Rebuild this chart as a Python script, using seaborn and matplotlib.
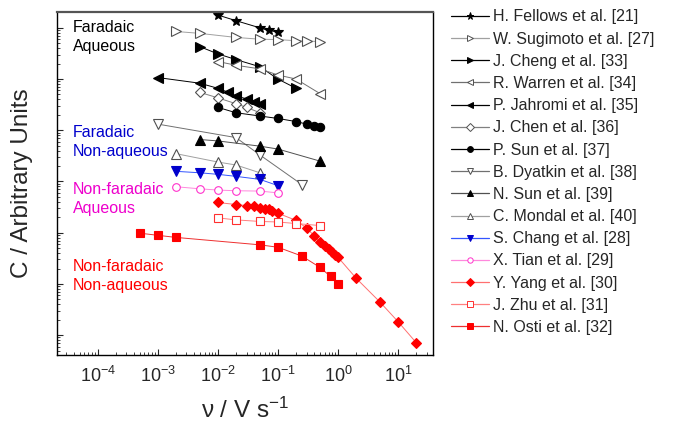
import matplotlib
matplotlib.use("Agg")
import matplotlib.pyplot as plt
from matplotlib.ticker import LogLocator, NullFormatter, FixedLocator
from matplotlib.lines import Line2D
import seaborn as sns

# ---------------- data ----------------
labels = ["H. Fellows et al. [21]", "W. Sugimoto et al. [27]", "J. Cheng et al. [33]",
          "R. Warren et al. [34]", "P. Jahromi et al. [35]", "J. Chen et al. [36]",
          "P. Sun et al. [37]", "B. Dyatkin et al. [38]", "N. Sun et al. [39]",
          "C. Mondal et al. [40]", "S. Chang et al. [28]", "X. Tian et al. [29]",
          "Y. Yang et al. [30]", "J. Zhu et al. [31]", "N. Osti et al. [32]"]

x_major_ticks = [1e-4, 1e-3, 1e-2, 1e-1, 1e0, 1e1]

fellows_x = [0.01, 0.02, 0.05, 0.07, 0.1]
fellows_y = [1.78e6, 1.38e6, 1.0e6, 8.9e5, 8.3e5]
sugimoto_x = [0.002, 0.005, 0.02, 0.05, 0.1, 0.2, 0.3, 0.5]
sugimoto_y = [8.5e5, 7.8e5, 6.5e5, 6.0e5, 5.9e5, 5.6e5, 5.5e5, 5.4e5]
cheng_x = [0.005, 0.01, 0.02, 0.05, 0.1, 0.2]
cheng_y = [4.3e5, 3.1e5, 2.4e5, 1.74e5, 1.0e5, 6.6e4]
warren_x = [0.01, 0.02, 0.05, 0.1, 0.2, 0.5]
warren_y = [2.2e5, 1.86e5, 1.58e5, 1.2e5, 1.0e5, 5.2e4]
jahromi_x = [0.001, 0.005, 0.01, 0.015, 0.02, 0.03, 0.04, 0.05]
jahromi_y = [1.07e5, 8.3e4, 6.6e4, 5.5e4, 4.7e4, 4.1e4, 3.5e4, 3.2e4]
chen_x = [0.005, 0.01, 0.02, 0.03, 0.05]
chen_y = [5.5e4, 4.3e4, 3.3e4, 2.8e4, 2.2e4]
psun_x = [0.01, 0.02, 0.05, 0.1, 0.2, 0.3, 0.4, 0.5]
psun_y = [2.8e4, 2.2e4, 1.9e4, 1.7e4, 1.48e4, 1.32e4, 1.2e4, 1.15e4]
dyatkin_x = [0.001, 0.02, 0.05, 0.25]
dyatkin_y = [1.32e4, 7.2e3, 3.3e3, 870]
nsun_x = [0.005, 0.01, 0.05, 0.1, 0.5]
nsun_y = [6.6e3, 6.2e3, 4.9e3, 4.3e3, 2.5e3]
mondal_x = [0.002, 0.01, 0.02, 0.05]
mondal_y = [3.5e3, 2.4e3, 2.1e3, 1.48e3]
chang_x = [0.002, 0.005, 0.01, 0.02, 0.05, 0.1]
chang_y = [1.58e3, 1.48e3, 1.38e3, 1.26e3, 1.1e3, 830]
tian_x = [0.002, 0.005, 0.01, 0.02, 0.05, 0.1]
tian_y = [790, 720, 680, 660, 650, 600]
yang_x = [0.01, 0.02, 0.03, 0.04, 0.05, 0.06, 0.07, 0.08, 0.1, 0.2, 0.3, 0.4,
          0.5, 0.6, 0.7, 0.8, 0.9, 1.0, 2, 5, 10, 20]
yang_y = [389, 355, 339, 331, 309, 295, 288, 269, 240, 174, 123, 87,
          65, 55, 48, 42, 37, 33, 12.9, 4.4, 1.82, 0.71]
zhu_x = [0.01, 0.02, 0.05, 0.1, 0.2, 0.5]
zhu_y = [195, 178, 166, 162, 151, 138]
osti_x = [0.0005, 0.001, 0.002, 0.05, 0.1, 0.25, 0.5, 0.75, 1.0]
osti_y = [98, 89, 81, 58, 52, 35, 21, 14, 9.8]

xs = [fellows_x, sugimoto_x, cheng_x, warren_x, jahromi_x, chen_x, psun_x, dyatkin_x,
      nsun_x, mondal_x, chang_x, tian_x, yang_x, zhu_x, osti_x]
ys = [fellows_y, sugimoto_y, cheng_y, warren_y, jahromi_y, chen_y, psun_y, dyatkin_y,
      nsun_y, mondal_y, chang_y, tian_y, yang_y, zhu_y, osti_y]

# styles: marker, line colour, marker face, marker edge, size
styles = [
    ("*", "#000000", "#000000", "#000000", 7.5),
    (">", "#a0a0a0", "white", "#505050", 6.5),
    (">", "#000000", "#000000", "#000000", 6.5),
    ("<", "#707070", "white", "#505050", 6.5),
    ("<", "#000000", "#000000", "#000000", 6.5),
    ("D", "#808080", "white", "#505050", 5.5),
    ("o", "#000000", "#000000", "#000000", 6),
    ("v", "#707070", "white", "#505050", 6.5),
    ("^", "#505050", "#000000", "#000000", 6.5),
    ("^", "#a0a0a0", "white", "#505050", 6.5),
    ("v", "#3355ff", "#0000cc", "#0000cc", 6.5),
    ("o", "#ff88dd", "white", "#ff33cc", 5.5),
    ("D", "#ff7070", "#ff0000", "#ff0000", 5.5),
    ("s", "#ff8080", "white", "#ff3030", 5.5),
    ("s", "#ee3030", "#ff0000", "#ff0000", 5.5),
]

# ---------------- figure ----------------
sns.set_style("ticks")
plt.rcParams["font.family"] = ["Liberation Sans", "DejaVu Sans"]
plt.rcParams["mathtext.fontset"] = "custom"
plt.rcParams["mathtext.rm"] = "Liberation Sans"
plt.rcParams["mathtext.it"] = "Liberation Sans:italic"
plt.rcParams["mathtext.bf"] = "Liberation Sans:bold"

fig = plt.figure(figsize=(6.94, 4.28), dpi=100)
ax = fig.add_axes([0.082, 0.1706, 0.542, 0.8014])

handles = []
for lab, x, y, (m, lc, fc, ec, ms) in zip(labels, xs, ys, styles):
    sns.lineplot(x=x, y=y, ax=ax, color=lc, linewidth=0.7, marker=m, markersize=ms,
                 markerfacecolor=fc, markeredgecolor=ec, markeredgewidth=0.8,
                 sort=False, errorbar=None, legend=False)
    handles.append(Line2D([], [], color=lc, linewidth=0.9, marker=m, markersize=ms * 0.7,
                          markerfacecolor=fc, markeredgecolor=ec, markeredgewidth=0.7,
                          label=lab))

ax.set_xscale("log")
ax.set_yscale("log")
ax.set_xlim(2.1e-5, 38)
ax.set_ylim(0.41, 2.04e6)

ax.xaxis.set_major_locator(FixedLocator(x_major_ticks))
ax.xaxis.set_minor_locator(LogLocator(base=10, subs=range(2, 10), numticks=100))
ax.yaxis.set_major_locator(LogLocator(base=10, numticks=20))
ax.yaxis.set_minor_locator(LogLocator(base=10, subs=range(2, 10), numticks=100))
ax.yaxis.set_major_formatter(NullFormatter())
ax.yaxis.set_minor_formatter(NullFormatter())
ax.xaxis.set_minor_formatter(NullFormatter())

ax.tick_params(which="both", direction="in", top=False, right=False)
ax.tick_params(which="major", length=4.5, width=0.8, labelsize=13, pad=8)
ax.tick_params(which="minor", length=2.3, width=0.6)
for s in ax.spines.values():
    s.set_visible(True)
    s.set_linewidth(1.0)
    s.set_color("#000000")
ax.spines["top"].set_color("#555555")
ax.spines["top"].set_linewidth(1.6)

ax.set_xlabel("\u03bd / V s$^{-1}$", fontsize=17.5, labelpad=8)
ax.set_ylabel("C / Arbitrary Units", fontsize=17.5, labelpad=9)

txt = dict(transform=ax.transAxes, fontsize=11.5, va="top", ha="left", linespacing=1.35)
ax.text(0.043, 0.976, "Faradaic\nAqueous", color="black", **txt)
ax.text(0.043, 0.670, "Faradaic\nNon-aqueous", color="#0000cc", **txt)
ax.text(0.043, 0.505, "Non-faradaic\nAqueous", color="#ee00cc", **txt)
ax.text(0.043, 0.280, "Non-faradaic\nNon-aqueous", color="#ff0000", **txt)

fig.legend(handles=handles, loc="upper left", bbox_to_anchor=(0.650, 0.978),
           frameon=False, fontsize=11.5, handlelength=2.4, handletextpad=0.2,
           labelspacing=0.45, borderaxespad=0, borderpad=0)

fig.savefig("out.png", dpi=100)
